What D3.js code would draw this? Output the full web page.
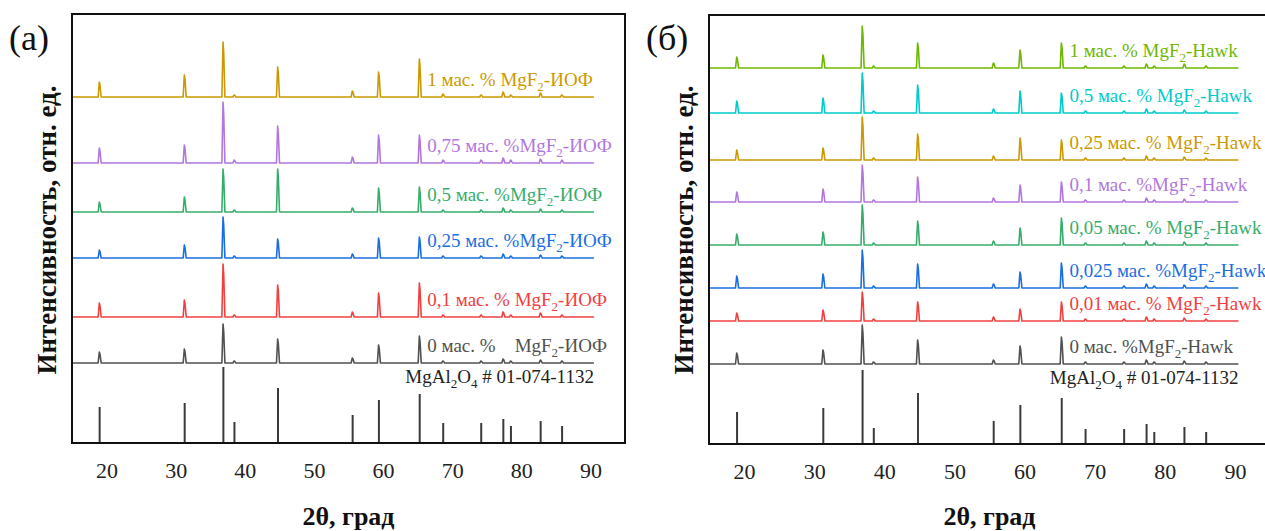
<!DOCTYPE html>
<html>
<head>
<meta charset="utf-8">
<script src="https://cdn.jsdelivr.net/npm/d3@7"></script>
<style>
  body { margin: 0; background: #fff; }
  svg { display: block; }
</style>
</head>
<body>
<svg id="chart" width="1265" height="531"></svg>
<script>
// 2θ of the MgAl2O4 reflections (card 01-074-1132)
const peaks = [19.0, 31.3, 36.9, 38.5, 44.8, 55.6, 59.4, 65.3, 68.7, 74.2, 77.4, 78.5, 82.8, 85.9];
const xTicks = [20, 30, 40, 50, 60, 70, 80, 90];
const xStart = 15, xEnd = 90.5;

// card bars
const refA = [36, 40, 76, 21, 55, 28, 43, 49, 20, 20, 24, 17, 22, 17];
const refB = [32, 36, 74, 16, 51, 23, 39, 46, 15, 15, 20, 12, 17, 12];

// panel (a) - MgF2 ИОФ
const labelsA  = ["0 мас. %    ", "0,1 мас. % ", "0,25 мас. %", "0,5 мас. %", "0,75 мас. %", "1 мас. % "];
const offsetsA = [80, 126, 185, 231, 280, 346];
const heightsA = [
  [11, 14, 39, 2, 24, 5, 18, 27, 2, 2, 4, 2, 3, 2],
  [14, 17, 53, 2, 32, 5, 24, 34, 2, 2, 5, 2, 4, 2],
  [ 8, 13, 41, 2, 19, 4, 20, 21, 2, 2, 4, 2, 3, 2],
  [10, 15, 43, 2, 43, 4, 24, 25, 2, 2, 4, 2, 3, 2],
  [15, 18, 61, 3, 37, 6, 28, 28, 3, 3, 5, 3, 4, 3],
  [15, 22, 55, 2, 30, 6, 25, 38, 3, 2, 5, 2, 4, 2]
];

// panel (б) - MgF2 Hawk
const labelsB  = ["0 мас. %", "0,01 мас. % ", "0,025 мас. %", "0,05 мас. % ", "0,1 мас. %", "0,25 мас. % ", "0,5 мас. % ", "1 мас. % "];
const offsetsB = [80, 123, 156, 199, 242, 284, 331, 376];
const heightsB = [
  [11, 14, 39, 2, 24, 4, 18, 27, 2, 2, 4, 2, 3, 2],
  [ 8, 11, 29, 2, 19, 4, 12, 19, 2, 2, 4, 2, 3, 2],
  [12, 14, 38, 2, 24, 4, 16, 25, 2, 2, 4, 2, 3, 2],
  [11, 13, 40, 2, 24, 4, 17, 27, 2, 2, 4, 2, 3, 2],
  [10, 13, 37, 2, 25, 4, 17, 20, 2, 2, 4, 2, 3, 2],
  [10, 12, 43, 2, 26, 4, 22, 20, 2, 2, 4, 2, 3, 2],
  [12, 15, 40, 2, 28, 4, 22, 20, 2, 2, 4, 2, 3, 2],
  [11, 13, 42, 2, 25, 5, 18, 25, 2, 2, 4, 2, 4, 2]
];

const colorsA = ["#515151", "#F14040", "#1A6FDF", "#37AD6B", "#B177DE", "#CC9900"];
const colorsB = ["#515151", "#F14040", "#1A6FDF", "#37AD6B", "#B177DE", "#CC9900", "#00CBCC", "#6FB802"];

const svg = d3.select("#chart");
const serif = "'Liberation Serif', 'Times New Roman', serif";

function drawPanel(p) {
  const x = d3.scaleLinear().domain([15, 95]).range([p.left, p.right]);
  const y = d3.scaleLinear().domain([0, 429]).range([p.bottom, p.top]);
  const g = svg.append("g");
  const hw = 0.22;

  // card bars
  g.selectAll("line.ref").data(peaks).enter().append("line")
      .attr("class", "ref")
      .attr("x1", d => x(d)).attr("x2", d => x(d))
      .attr("y1", y(0))
      .attr("y2", (d, i) => y(p.ref[i]))
      .attr("stroke", "#3a3a3a")
      .attr("stroke-width", 2);

  const line = d3.line().x(d => x(d[0])).y(d => y(d[1]));

  p.heights.forEach((hs, k) => {
    const off = p.offsets[k];
    const pts = [[xStart, off]];
    peaks.forEach((pk, i) => {
      pts.push([pk - hw, off], [pk - 0.05, off + hs[i]], [pk + 0.05, off + hs[i] * 0.8], [pk + hw, off]);
    });
    pts.push([xEnd, off]);

    g.append("path")
        .attr("d", line(pts))
        .attr("fill", "none")
        .attr("stroke", p.colors[k])
        .attr("stroke-width", 1.6)
        .attr("stroke-linejoin", "round");

    const t = g.append("text")
        .attr("x", x(66.4))
        .attr("y", y(off) - 11)
        .attr("fill", p.colors[k])
        .style("font-family", serif)
        .style("font-size", "19px")
        .style("white-space", "pre");
    t.append("tspan").text(p.labels[k] + "MgF");
    t.append("tspan").attr("dy", 5).style("font-size", "13px").text("2");
    t.append("tspan").attr("dy", -5).text("-" + p.name);
  });

  // card label
  const r = g.append("text")
      .attr("x", x(xEnd))
      .attr("y", y(60))
      .attr("text-anchor", "end")
      .attr("fill", "#222")
      .style("font-family", serif)
      .style("font-size", "19px");
  r.append("tspan").text("MgAl");
  r.append("tspan").attr("dy", 5).style("font-size", "13px").text("2");
  r.append("tspan").attr("dy", -5).text("O");
  r.append("tspan").attr("dy", 5).style("font-size", "13px").text("4");
  r.append("tspan").attr("dy", -5).text(" # 01-074-1132");

  // frame
  g.append("rect")
      .attr("x", p.left).attr("y", p.top)
      .attr("width", p.right - p.left).attr("height", p.bottom - p.top)
      .attr("fill", "none")
      .attr("stroke", "#111")
      .attr("stroke-width", 2);

  const ax = g.append("g")
      .attr("transform", "translate(0," + p.bottom + ")")
      .call(d3.axisBottom(x).tickValues(xTicks).tickSize(0).tickPadding(19));
  ax.select(".domain").remove();
  ax.selectAll("text")
      .style("font-family", serif)
      .style("font-size", "22px")
      .attr("fill", "#222");

  g.append("text")
      .attr("x", (p.left + p.right) / 2)
      .attr("y", 525)
      .attr("text-anchor", "middle")
      .style("font-family", serif)
      .style("font-weight", "bold")
      .style("font-size", "26px")
      .attr("fill", "#111")
      .text("2θ, град");

  g.append("text")
      .attr("transform", "translate(" + (p.left - 16) + ",230) rotate(-90)")
      .attr("text-anchor", "middle")
      .style("font-family", serif)
      .style("font-weight", "bold")
      .style("font-size", "27px")
      .attr("fill", "#111")
      .text("Интенсивность, отн. ед.");

  g.append("text")
      .attr("x", p.left - 63)
      .attr("y", 50)
      .style("font-family", serif)
      .style("font-size", "36px")
      .attr("fill", "#111")
      .text(p.tag);
}

drawPanel({ left: 72, right: 625, top: 14, bottom: 443, ref: refA, offsets: offsetsA,
  heights: heightsA, colors: colorsA, labels: labelsA, name: "ИОФ", tag: "(a)" });
drawPanel({ left: 709, right: 1270, top: 15, bottom: 444, ref: refB, offsets: offsetsB,
  heights: heightsB, colors: colorsB, labels: labelsB, name: "Hawk", tag: "(б)" });
</script>
</body>
</html>
